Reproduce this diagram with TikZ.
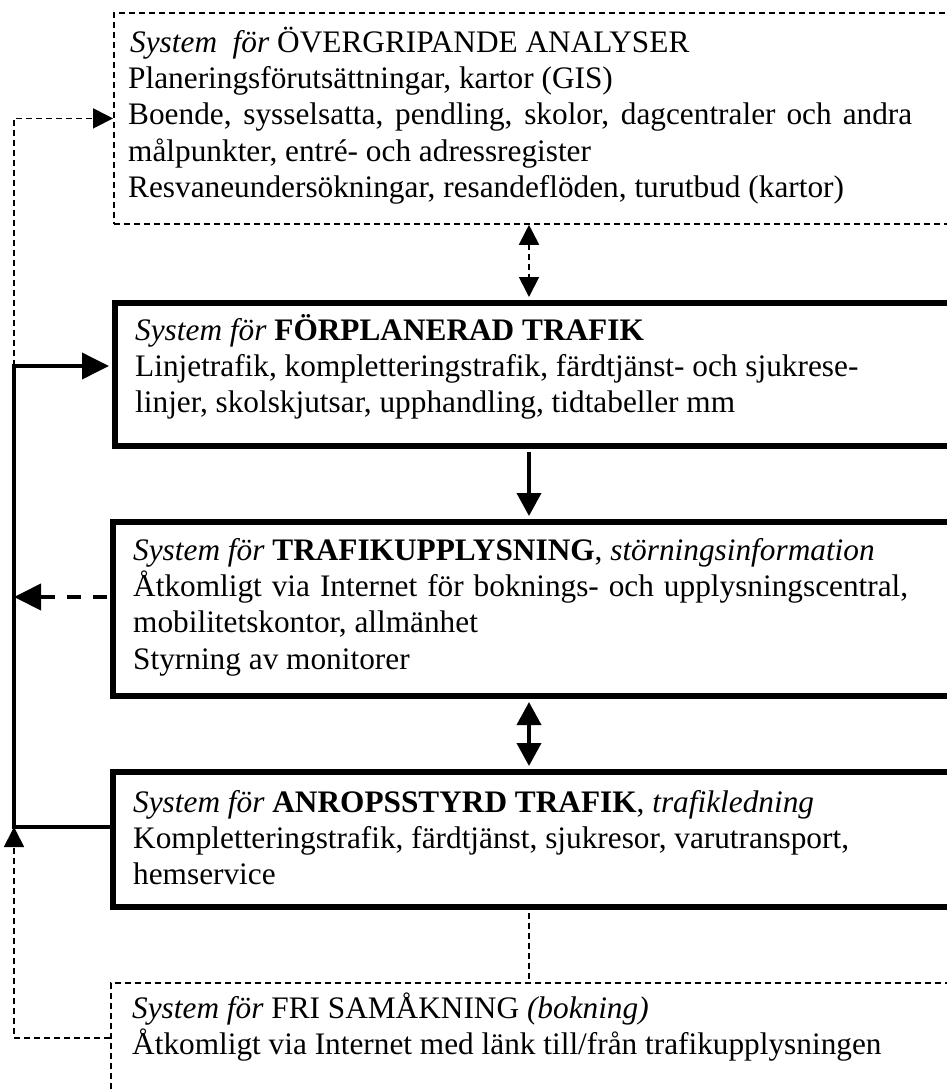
\documentclass[tikz,border=0pt]{standalone}
\usepackage{fontspec}
\setmainfont{Liberation Serif}
\usetikzlibrary{arrows.meta}
\begin{document}
\begin{tikzpicture}[x=1pt,y=-1pt,
  thickbox/.style={draw,line width=6pt,rectangle,inner sep=0pt,anchor=north west},
  dashbox/.style={draw,line width=1.8pt,dash pattern=on 6pt off 4pt,rectangle,inner sep=0pt,anchor=north west},
  txt/.style={anchor=base west,inner sep=0pt,font=\fontsize{31.3}{36.4}\selectfont},
  thindash/.style={line width=1.8pt,dash pattern=on 6pt off 4pt},
  thickdash/.style={line width=4pt,dash pattern=on 14pt off 12pt},
  solidline/.style={line width=3.8pt},
  tipS/.tip={Triangle[length=20pt,width=20pt]},
  tipM/.tip={Triangle[length=23pt,width=24pt]},
  tipL/.tip={Triangle[length=27pt,width=26pt]}
]
\clip (0,0) rectangle (947,1092);
\fill[white] (0,0) rectangle (947,1092);
% boxes
\node[dashbox,minimum width=860pt,minimum height=211pt] (b1) at (113,12) {};
\node[thickbox,minimum width=860pt,minimum height=143pt] (b2) at (112,300) {};
\node[thickbox,minimum width=860pt,minimum height=174pt] (b3) at (110,519) {};
\node[thickbox,minimum width=860pt,minimum height=135pt] (b4) at (110,769) {};
\node[dashbox,minimum width=860pt,minimum height=200pt] (b5) at (110,982) {};
% texts
\node[txt] (t1) at (128,52) {\parbox[t]{820pt}{\raggedright
\hspace*{2pt}\textit{System\ \ för} ÖVERGRIPANDE ANALYSER\\
Planeringsförutsättningar, kartor (GIS)\\
\makebox[784pt][s]{Boende, sysselsatta, pendling, skolor, dagcentraler och andra}\\
målpunkter, entré- och adressregister\\
Resvaneundersökningar, resandeflöden, turutbud (kartor)}};
\node[txt] (t2) at (135,340) {\parbox[t]{810pt}{\raggedright
\textit{System för} \textbf{FÖRPLANERAD TRAFIK}\\
Linjetrafik, kompletteringstrafik, färdtjänst- och sjukrese-\\
linjer, skolskjutsar, upphandling, tidtabeller mm}};
\node[txt] (t3) at (133,560) {\parbox[t]{810pt}{\raggedright
\textit{System för} \textbf{TRAFIKUPPLYSNING}, \textit{störningsinformation}\\
\makebox[775pt][s]{Åtkomligt via Internet för boknings- och upplysningscentral,}\\
mobilitetskontor, allmänhet\\
Styrning av monitorer}};
\node[txt] (t4) at (133,812) {\parbox[t]{810pt}{\raggedright
\textit{System för} \textbf{ANROPSSTYRD TRAFIK}, \textit{trafikledning}\\
Kompletteringstrafik, färdtjänst, sjukresor, varutransport,\\
hemservice}};
\node[txt] (t5) at (132,1018) {\parbox[t]{810pt}{\raggedright
\textit{System för} FRI SAMÅKNING \textit{(bokning)}\\
Åtkomligt via Internet med länk till/från trafikupplysningen}};
% helper coordinates
\coordinate (L) at (14,0);
\coordinate (M) at (529,0);
\coordinate (yb) at (0,366);
\coordinate (yc) at (0,597);
\coordinate (yd) at (0,827);
\coordinate (ye) at (0,1038);
% left connectors
\draw[thindash,-tipS] (L |- yb) -- (L |- b1.west) -- (b1.west);
\draw[solidline,-tipL,shorten >=3pt] (b4.west |- yd) -- (L |- yd) -- (L |- yb) -- (b2.west |- yb);
\draw[thickdash,-tipL] ([xshift=-3pt]b3.west |- yc) -- (L |- yc);
\draw[thindash,-tipS] (b5.west |- ye) -- (L |- ye) -- (L |- yd);
% middle connectors
\draw[thindash,tipS-tipS,shorten >=3pt] (M |- b1.south) -- (M |- b2.north);
\draw[solidline,-tipM,shorten <=3pt,shorten >=3pt] (M |- b2.south) -- (M |- b3.north);
\draw[solidline,tipM-tipM,shorten <=3pt,shorten >=3pt] (M |- b3.south) -- (M |- b4.north);
\draw[thindash,shorten <=3pt] (M |- b4.south) -- (M |- b5.north);
\end{tikzpicture}
\end{document}
